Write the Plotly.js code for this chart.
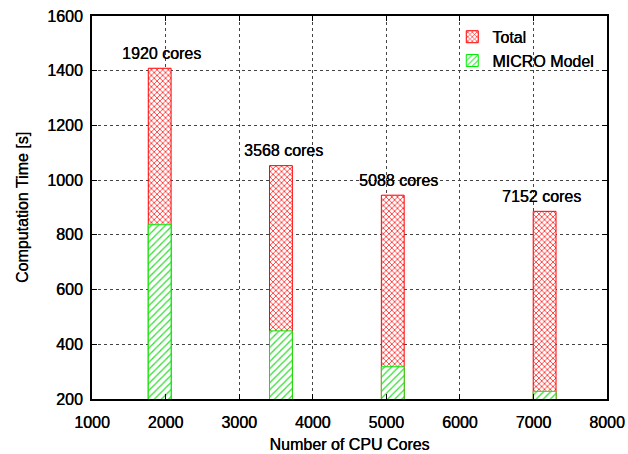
<!DOCTYPE html>
<html><head><meta charset="utf-8">
<script src="https://cdn.plot.ly/plotly-3.0.1.min.js"></script>
<style>html,body{margin:0;padding:0;background:#fff}#chart{width:628px;height:454px}</style>
</head><body><div id="chart"></div>
<script>
const cores = [1920, 3568, 5088, 7152];
const totalTime = [1409, 1053, 945, 886];
const microTime = [837, 449, 318, 228];
const coreLabels = ['1920 cores', '3568 cores', '5088 cores', '7152 cores'];
const seriesNames = ['Total', 'MICRO Model'];
const xTicks = [1000, 2000, 3000, 4000, 5000, 6000, 7000, 8000];
const yTicks = [200, 400, 600, 800, 1000, 1200, 1400, 1600];

const font = {family: 'Liberation Sans, Arial, sans-serif', size: 16, color: '#000',
              shadow: '0.35px 0 0 #000'};
const barW = 310;

const traces = [
  {type: 'bar', name: seriesNames[0], x: cores, y: totalTime, width: barW,
   marker: {color: '#fff', line: {color: '#ff0000', width: 1},
            pattern: {shape: 'x', fgcolor: '#ff2a2a', bgcolor: '#fff', size: 4, solidity: 0.38}}},
  {type: 'bar', name: seriesNames[1], x: cores, y: microTime, width: barW,
   marker: {color: '#fff', line: {color: '#00ee00', width: 1},
            pattern: {shape: '/', fgcolor: '#33dd33', bgcolor: '#fff', size: 5, solidity: 0.25}}}
];

const labelXShift = [0, 1, 4, -5];
const annotations = cores.map((c, i) => ({
  x: c, y: totalTime[i], xref: 'x', yref: 'y', text: coreLabels[i],
  showarrow: false, yanchor: 'middle', yshift: 15, xshift: labelXShift[i] + 2,
  font: font
}));

const axisCommon = {
  showline: true, linecolor: '#000', linewidth: 2, mirror: 'ticks',
  ticks: 'inside', ticklen: 5, tickcolor: '#000', tickwidth: 1,
  showgrid: true, gridcolor: '#444', griddash: 'dot', gridwidth: 1,
  zeroline: false, tickfont: font
};

const layout = {
  width: 628, height: 454,
  margin: {l: 92, r: 21, t: 16, b: 55},
  paper_bgcolor: '#fff', plot_bgcolor: '#fff',
  barmode: 'overlay', showlegend: true,
  xaxis: Object.assign({}, axisCommon, {range: [1000, 8000], tickvals: xTicks,
    ticklabelstandoff: 8,
    title: {text: 'Number of CPU Cores', font: font, standoff: 9}}),
  yaxis: Object.assign({}, axisCommon, {range: [200, 1600], tickvals: yTicks,
    ticklabelstandoff: 4,
    title: {text: 'Computation Time [s]', font: font, standoff: 15}}),
  legend: {x: 0.985, y: 0.99, xanchor: 'right', yanchor: 'top',
    bgcolor: 'rgba(255,255,255,0)', font: font, tracegroupgap: 0, traceorder: 'normal'},
  annotations: annotations
};

Plotly.newPlot('chart', traces, layout, {displayModeBar: false, staticPlot: true});
</script></body></html>
